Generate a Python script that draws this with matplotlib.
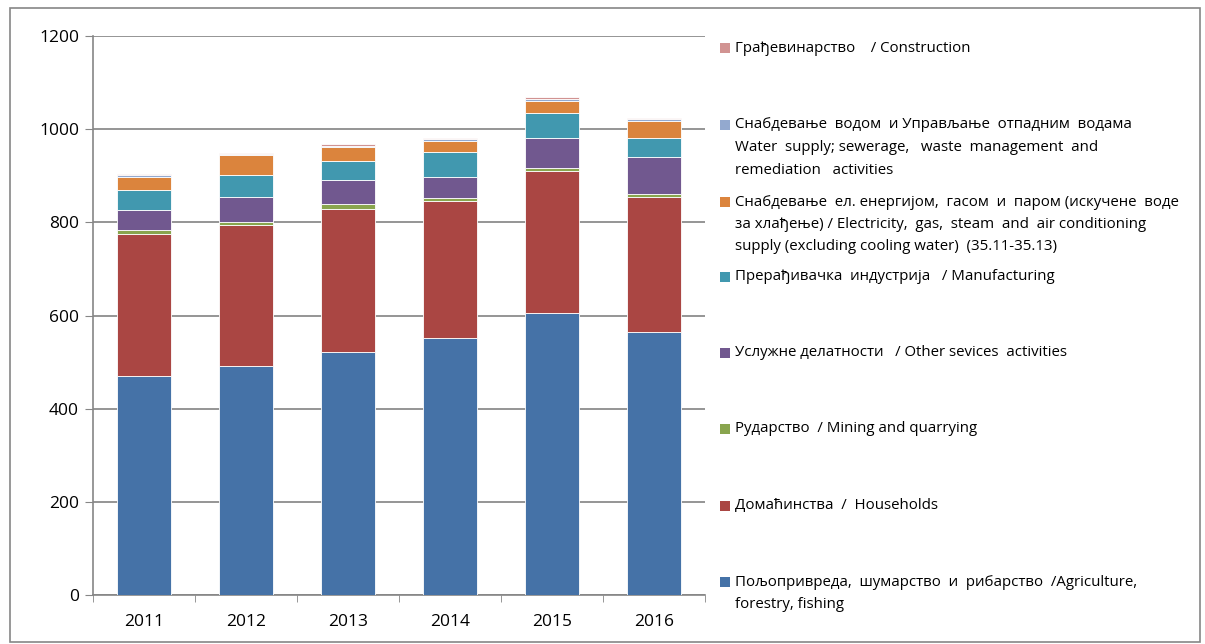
import matplotlib.pyplot as plt
from matplotlib.patches import Rectangle
import numpy as np

plt.rcParams['font.family'] = ['Open Sans', 'DejaVu Sans']

years = ['2011', '2012', '2013', '2014', '2015', '2016']

# stacked series, bottom to top
agriculture = [470, 492, 522, 552, 605, 565]
households = [304, 303, 307, 294, 306, 290]
mining = [9, 5, 10, 6, 6, 5]
other_services = [43, 55, 51, 46, 63, 81]
manufacturing = [43, 47, 42, 52, 55, 39]
electricity = [29, 42, 30, 25, 25, 38]
water = [4, 2, 2, 4, 5, 4]
construction = [1, 3, 4, 1, 5, 1]

series = [agriculture, households, mining, other_services,
          manufacturing, electricity, water, construction]
colors = ['#4572A7', '#AA4643', '#89A54E', '#71588F',
          '#4198AF', '#DB843D', '#93A9CF', '#D19392']
labels = [
    'Пољопривреда,  шумарство  и  рибарство  /Agriculture,\nforestry, fishing',
    'Домаћинства  /  Households',
    'Рударство  / Mining and quarrying',
    'Услужне делатности   / Other sevices  activities',
    'Прерађивачка  индустрија   / Manufacturing',
    'Снабдевање  ел. енергијом,  гасом  и  паром (искучене  воде\n'
    'за хлађење) / Electricity,  gas,  steam  and  air conditioning\n'
    'supply (excluding cooling water)  (35.11-35.13)',
    'Снабдевање  водом  и Управљање  отпадним  водама\n'
    'Water  supply; sewerage,   waste  management  and\n'
    'remediation   activities',
    'Грађевинарство    / Construction',
]

W, H = 1205, 644
fig = plt.figure(figsize=(W / 100, H / 100), dpi=100)
ax = fig.add_axes([93 / W, 1 - 595 / H, 612 / W, (595 - 36) / H])

x = np.arange(len(years))
bottom = np.zeros(len(years))
for vals, col in zip(series, colors):
    ax.bar(x, vals, width=0.52, bottom=bottom, color=col,
           edgecolor='#ffffff', linewidth=0.6, zorder=3)
    bottom += np.array(vals)

ax.set_xlim(-0.5, len(years) - 0.5)
ax.set_ylim(0, 1200)
ax.set_yticks(range(0, 1201, 200))
ax.set_xticks(x)
ax.set_xticklabels(years)
ax.set_xticks(np.arange(-0.5, len(years)), minor=True)
ax.tick_params(axis='x', which='major', length=0, pad=14, labelsize=12.5)
ax.tick_params(axis='x', which='minor', length=5, color='#868686', direction='out')
ax.tick_params(axis='y', length=6, color='#868686', labelsize=12.5, pad=4)
ax.grid(axis='y', color='#8c8c8c', linewidth=1.3, zorder=0)
for s in ['top', 'right']:
    ax.spines[s].set_visible(False)
for s in ['left', 'bottom']:
    ax.spines[s].set_color('#868686')
    ax.spines[s].set_linewidth(1.2)

# legend drawn by hand, top entry first
slot_y = [48, 125, 202, 277, 353, 429, 506, 582]
for i, idx in enumerate(range(len(series) - 1, -1, -1)):
    yc = slot_y[i]
    fig.patches.append(Rectangle((720 / W, 1 - (yc + 5) / H), 10 / W, 10 / H,
                                 transform=fig.transFigure,
                                 facecolor=colors[idx], edgecolor='none'))
    for k, line in enumerate(labels[idx].split('\n')):
        fig.text(735 / W, 1 - (yc + 22.5 * k) / H, line, fontsize=10.8,
                 va='center', ha='left', color='#000000')

# outer chart border
fig.patches.append(Rectangle((10 / W, 2 / H), 1190 / W, (634) / H,
                             transform=fig.transFigure, fill=False,
                             edgecolor='#868686', linewidth=1.2))

fig.savefig('out.png', dpi=100)
